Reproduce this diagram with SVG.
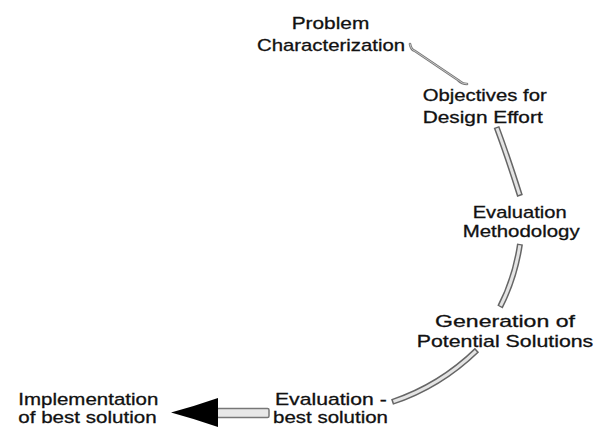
<svg xmlns="http://www.w3.org/2000/svg" width="595" height="427" viewBox="0 0 595 427">
<style>
.lbl{font-family:"Liberation Sans",Arial,Helvetica,sans-serif;font-size:17px;fill:#111;stroke:#111;stroke-width:0.3;}
.tube-o{fill:none;stroke:#666;stroke-width:6;stroke-linecap:butt;}
.tube-i{fill:none;stroke:#e4e4e4;stroke-width:3;stroke-linecap:butt;}
.thin-o{fill:none;stroke:#777;stroke-width:2.6;stroke-linecap:round;stroke-linejoin:round;}
.thin-i{fill:none;stroke:#cfcfcf;stroke-width:0.9;stroke-linecap:round;stroke-linejoin:round;}
</style>
<rect width="595" height="427" fill="#fff"/>
<g id="connectors">
  <path class="thin-o" d="M410,44 Q411,50 415,51 L458,80 Q462,84 467,84"/>
  <path class="thin-i" d="M410,44 Q411,50 415,51 L458,80 Q462,84 467,84"/>
  <path class="tube-o" d="M496.5,127 Q507,155 520,196"/>
  <path class="tube-i" d="M496.5,127 Q507,155 520,196" pathLength="100" stroke-dasharray="0 2 96 2"/>
  <path class="tube-o" d="M520,244 Q515,278 500,307"/>
  <path class="tube-i" d="M520,244 Q515,278 500,307" pathLength="100" stroke-dasharray="0 2 96 2"/>
  <path class="tube-o" d="M477,350 Q440,386 392,402"/>
  <path class="tube-i" d="M477,350 Q440,386 392,402" pathLength="100" stroke-dasharray="0 1.5 97 1.5"/>
  <rect x="217" y="408.5" width="52" height="9" rx="1.5" fill="#e8e8e8" stroke="#777" stroke-width="1.5"/>
  <path d="M171,412.5 Q195,406 218,398 L218,427 Q195,419 171,412.5 Z" fill="#000"/>
</g>
<g id="node-problem">
  <text class="lbl" x="291.7" y="28.7" textLength="77.6" lengthAdjust="spacingAndGlyphs">Problem</text>
  <text class="lbl" x="257" y="51" textLength="148" lengthAdjust="spacingAndGlyphs">Characterization</text>
</g>
<g id="node-objectives">
  <text class="lbl" x="422.7" y="101" textLength="124" lengthAdjust="spacingAndGlyphs">Objectives for</text>
  <text class="lbl" x="422.7" y="122.7" textLength="120" lengthAdjust="spacingAndGlyphs">Design Effort</text>
</g>
<g id="node-evaluation-method">
  <text class="lbl" x="472.7" y="218.3" textLength="94" lengthAdjust="spacingAndGlyphs">Evaluation</text>
  <text class="lbl" x="462.7" y="237.3" textLength="117" lengthAdjust="spacingAndGlyphs">Methodology</text>
</g>
<g id="node-generation">
  <text class="lbl" x="435" y="326.7" textLength="140" lengthAdjust="spacingAndGlyphs">Generation of</text>
  <text class="lbl" x="416.7" y="347.3" textLength="176.6" lengthAdjust="spacingAndGlyphs">Potential Solutions</text>
</g>
<g id="node-evaluation-best">
  <text class="lbl" x="275" y="404.5" textLength="111.7" lengthAdjust="spacingAndGlyphs">Evaluation -</text>
  <text class="lbl" x="273" y="423" textLength="115" lengthAdjust="spacingAndGlyphs">best solution</text>
</g>
<g id="node-implementation">
  <text class="lbl" x="18.3" y="405" textLength="140" lengthAdjust="spacingAndGlyphs">Implementation</text>
  <text class="lbl" x="18.3" y="423.3" textLength="138.4" lengthAdjust="spacingAndGlyphs">of best solution</text>
</g>
</svg>
